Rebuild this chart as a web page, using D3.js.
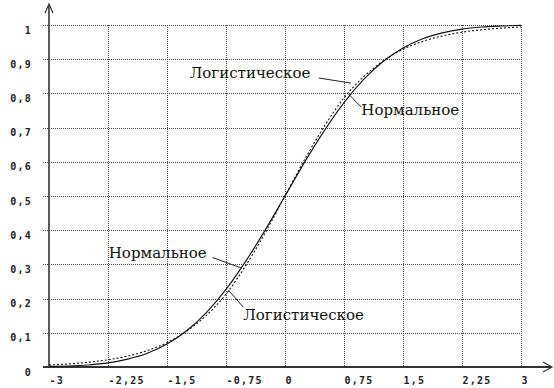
<!doctype html>
<html>
<head>
<meta charset="utf-8">
<title>Нормальное и логистическое</title>
<script src="https://cdn.jsdelivr.net/npm/d3@7"></script>
<style>
  body { margin: 0; background: #fff; }
  .tick-label { font-family: "DejaVu Sans Mono", monospace; font-weight: bold; font-size: 10px; fill: #222; letter-spacing: 1.2px; }
</style>
</head>
<body>
<div id="chart"></div>
<script>
  // data
  var xs = [-3, -2.75, -2.5, -2.25, -2, -1.75, -1.5, -1.25, -1, -0.75, -0.5, -0.25, 0,
            0.25, 0.5, 0.75, 1, 1.25, 1.5, 1.75, 2, 2.25, 2.5, 2.75, 3];
  var normal = [0.002, 0.003, 0.006, 0.012, 0.023, 0.040, 0.067, 0.106, 0.159, 0.227, 0.309, 0.401, 0.5,
                0.599, 0.691, 0.773, 0.841, 0.894, 0.933, 0.960, 0.977, 0.988, 0.994, 0.997, 0.999];
  var logistic = [0.006, 0.009, 0.014, 0.021, 0.032, 0.048, 0.071, 0.105, 0.151, 0.213, 0.296, 0.393, 0.5,
                  0.607, 0.704, 0.787, 0.849, 0.895, 0.929, 0.952, 0.968, 0.979, 0.986, 0.991, 0.994];
  var xTicks = [-3, -2.25, -1.5, -0.75, 0, 0.75, 1.5, 2.25, 3];
  var yTicks = [0, 0.1, 0.2, 0.3, 0.4, 0.5, 0.6, 0.7, 0.8, 0.9, 1];

  // labels: text start and baseline in data units, leader from [x1,y1] to [x2,y2]
  var labels = [
    {text: 'Логистическое', x: -1.21, y: 0.845, l: [0.43, 0.845, 0.84, 0.83]},
    {text: 'Нормальное', x: 0.97, y: 0.737, l: [0.97, 0.76, 0.80, 0.80]},
    {text: 'Нормальное', x: -2.24, y: 0.32, l: [-0.92, 0.32, -0.56, 0.29]},
    {text: 'Логистическое', x: -0.53, y: 0.137, l: [-0.53, 0.175, -0.72, 0.225]}
  ];

  var W = 554, H = 388;
  var svg = d3.select('#chart').append('svg')
      .attr('width', W)
      .attr('height', H);

  var x = d3.scaleLinear().domain([-3, 3]).range([49, 521]);
  var y = d3.scaleLinear().domain([0, 1]).range([367, 25]);

  var fmt = function(d) { return String(d).replace('.', ','); };

  // grid
  var grid = svg.append('g').attr('stroke', '#444').attr('stroke-width', 1)
      .attr('stroke-dasharray', '1,1');
  grid.selectAll('.h').data(yTicks.slice(1)).enter().append('line')
      .attr('x1', 43).attr('x2', x(3))
      .attr('y1', function(d) { return Math.round(y(d)) + 0.5; })
      .attr('y2', function(d) { return Math.round(y(d)) + 0.5; });
  grid.selectAll('.v').data(xTicks.slice(1)).enter().append('line')
      .attr('x1', function(d) { return Math.round(x(d)) + 0.5; })
      .attr('x2', function(d) { return Math.round(x(d)) + 0.5; })
      .attr('y1', y(1)).attr('y2', y(0));

  // axes
  var xAxis = svg.append('g')
      .attr('transform', 'translate(0,' + y(0) + ')')
      .call(d3.axisBottom(x).tickValues(xTicks).tickSize(0).tickFormat(fmt));
  xAxis.select('.domain').remove();
  xAxis.selectAll('text')
      .attr('class', 'tick-label')
      .attr('text-anchor', 'start')
      .attr('dy', null)
      .attr('y', 17);

  var yAxis = svg.append('g')
      .attr('transform', 'translate(32,0)')
      .call(d3.axisLeft(y).tickValues(yTicks).tickSize(0).tickFormat(fmt));
  yAxis.select('.domain').remove();
  yAxis.selectAll('text')
      .attr('class', 'tick-label')
      .attr('x', 0)
      .attr('dy', null)
      .attr('y', 8);

  // axis lines with arrows
  svg.append('line').attr('x1', 43).attr('x2', 551).attr('y1', y(0)).attr('y2', y(0))
      .attr('stroke', '#333').attr('stroke-width', 2);
  svg.append('path').attr('d', 'M543,362 L552,367 L543,372')
      .attr('fill', 'none').attr('stroke', '#333').attr('stroke-width', 1.2);
  svg.append('line').attr('x1', x(-3)).attr('x2', x(-3)).attr('y1', y(0)).attr('y2', 5)
      .attr('stroke', '#333').attr('stroke-width', 1.6);
  svg.append('path').attr('d', 'M45,13 L49,4 L53,13')
      .attr('fill', 'none').attr('stroke', '#333').attr('stroke-width', 1.2);

  // curves
  var line = d3.line()
      .x(function(d) { return x(d[0]); })
      .y(function(d) { return y(d[1]); })
      .curve(d3.curveMonotoneX);

  svg.append('path')
      .datum(xs.map(function(v, i) { return [v, normal[i]]; }))
      .attr('d', line)
      .attr('fill', 'none').attr('stroke', '#111').attr('stroke-width', 1.1);
  svg.append('path')
      .datum(xs.map(function(v, i) { return [v, logistic[i]]; }))
      .attr('d', line)
      .attr('fill', 'none').attr('stroke', '#111').attr('stroke-width', 1.1)
      .attr('stroke-dasharray', '2,2');

  // curve labels
  var lab = svg.selectAll('.lab').data(labels).enter().append('g');
  lab.append('text')
      .style('font-family', '"DejaVu Serif", serif')
      .style('font-size', '15px')
      .style('fill', '#111')
      .attr('x', function(d) { return x(d.x); })
      .attr('y', function(d) { return y(d.y); })
      .text(function(d) { return d.text; });
  lab.append('line')
      .attr('x1', function(d) { return x(d.l[0]); })
      .attr('y1', function(d) { return y(d.l[1]); })
      .attr('x2', function(d) { return x(d.l[2]); })
      .attr('y2', function(d) { return y(d.l[3]); })
      .attr('stroke', '#222').attr('stroke-width', 1);
</script>
</body>
</html>
